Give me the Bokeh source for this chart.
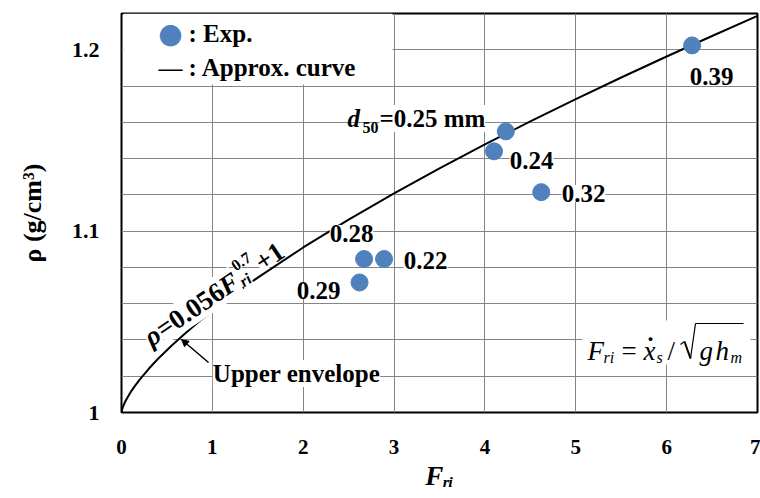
from bokeh.plotting import figure
from bokeh.models import (Label, BoxAnnotation, Arrow, NormalHead, FixedTicker,
                          NumeralTickFormatter, Range1d)
from bokeh.embed import file_html
from bokeh.resources import INLINE
import math

# ---------------- data ----------------
F_exp = [6.28, 4.23, 4.10, 4.62, 2.67, 2.89, 2.62]
rho_exp = [1.2024, 1.1550, 1.1440, 1.1215, 1.0846, 1.0846, 1.0717]
d50_mm = [0.39, 0.25, 0.24, 0.32, 0.28, 0.22, 0.29]

# approximation curve (upper envelope)
curve_F = [0, 0.005, 0.01, 0.02, 0.03, 0.05, 0.1, 0.15, 0.2, 0.3, 0.4, 0.55, 0.7,
           0.85, 1.0, 1.25, 1.5, 2.0, 2.5, 3.0, 3.5, 4.0, 4.5, 5.0, 5.5, 6.0, 6.5, 7.0]
curve_rho = [1.0, 1.0014, 1.0022, 1.0036, 1.0048, 1.0069, 1.0112, 1.0148, 1.0181,
             1.0241, 1.0295, 1.0368, 1.0436, 1.0500, 1.0560, 1.0655, 1.0744, 1.0910,
             1.1063, 1.1208, 1.1346, 1.1478, 1.1605, 1.1728, 1.1847, 1.1963, 1.2076, 1.2187]

x_ticks = [0, 1, 2, 3, 4, 5, 6, 7]
y_ticks = [1.0, 1.1, 1.2]
y_grid = [1.0, 1.02, 1.04, 1.06, 1.08, 1.1, 1.12, 1.14, 1.16, 1.18, 1.2, 1.22]
x_title = "Fᵣᵢ"
y_title = "ρ (g/cm³)"

# ---------------- layout ----------------
W, H = 760, 498
L, R, T, B = 121, 757, 13, 412
X0, X1, Y0, Y1 = 0, 7, 1.0, 1.22


def X(px):
    return X0 + (px - L) * (X1 - X0) / (R - L)


def Y(py):
    return Y0 + (B - py) * (Y1 - Y0) / (B - T)


FONT = "'Liberation Serif'"
BLUE = "#4F81BD"
TS = 25  # annotation text size

p = figure(width=W, height=H, x_range=Range1d(X0, X1), y_range=Range1d(Y0, Y1),
           output_backend="svg", toolbar_location=None,
           min_border_left=L, min_border_right=W - R, min_border_top=T,
           min_border_bottom=H - B)
p.background_fill_color = "white"
p.border_fill_color = "white"
p.outline_line_color = "black"
p.outline_line_width = 2

for ax in (p.xaxis[0], p.yaxis[0]):
    ax.axis_line_color = None
    ax.major_tick_line_color = None
    ax.minor_tick_line_color = None
    ax.major_tick_out = 0
    ax.major_tick_in = 0
    ax.minor_tick_out = 0
    ax.major_label_text_font = FONT
    ax.major_label_text_font_style = "bold"
    ax.major_label_text_font_size = "22px"
    ax.major_label_text_color = "black"
    ax.axis_label_text_font = FONT
    ax.axis_label_text_color = "black"

p.xaxis.ticker = FixedTicker(ticks=x_ticks)
p.xaxis.major_label_text_font_size = "21px"
p.xaxis.major_label_standoff = 27
p.xaxis.axis_label = x_title
p.xaxis.axis_label_text_font_size = "27px"
p.xaxis.axis_label_text_font_style = "bold italic"
p.xaxis.axis_label_standoff = 4

p.yaxis.ticker = FixedTicker(ticks=y_ticks)
p.yaxis.formatter = NumeralTickFormatter(format="0.[0]")
p.yaxis.major_label_standoff = 22
p.yaxis.axis_label = y_title
p.yaxis.axis_label_text_font_size = "26px"
p.yaxis.axis_label_text_font_style = "bold"
p.yaxis.axis_label_standoff = 22

p.xgrid.ticker = FixedTicker(ticks=x_ticks)
p.ygrid.ticker = FixedTicker(ticks=y_grid)
for g in (p.xgrid[0], p.ygrid[0]):
    g.grid_line_color = "#858585"
    g.grid_line_width = 1

# white area behind the legend and behind the formula
p.add_layout(BoxAnnotation(left=X(123), right=X(392), bottom=Y(84), top=Y1,
                           fill_color="white", fill_alpha=1, line_color=None))
p.add_layout(BoxAnnotation(left=X(582), right=X(750), bottom=Y(364), top=Y(320),
                           fill_color="white", fill_alpha=1, line_color=None))

# curve
p.line(curve_F, curve_rho, line_color="black", line_width=2)


def put(text, px, py, size=TS, style="bold", align="center", baseline="middle",
        angle=0, bg="white", color="black", font=FONT):
    lab = Label(x=X(px), y=Y(py), text=text, text_font=font,
                text_font_size=f"{size}px", text_font_style=style,
                text_align=align, text_baseline=baseline, angle=angle,
                angle_units="deg", text_color=color,
                background_fill_color=bg)
    p.add_layout(lab)
    return lab


def seg(x0, y0, x1, y1, w=1.3):
    p.add_layout(Arrow(end=None, x_start=X(x0), y_start=Y(y0), x_end=X(x1), y_end=Y(y1),
                       line_color="black", line_width=w))


# arrow to the curve
p.add_layout(Arrow(end=NormalHead(size=7, fill_color="black", line_color="black"),
                   x_start=X(208), y_start=Y(362), x_end=X(181), y_end=Y(339),
                   line_color="black", line_width=1.5))

# point labels
label_pos = {0.39: (711, 76), 0.24: (531, 160), 0.32: (583, 193),
             0.28: (351, 233), 0.22: (425, 260), 0.29: (318, 290)}
for v in d50_mm:
    if v in label_pos:
        px, py = label_pos[v]
        put(f"{v:.2f}", px, py)

# d50 = 0.25 mm label
put("d", 347, 118, style="bold italic", align="left", bg=None)
put("50", 362, 127, size=16, align="left", bg=None)
put(f"={d50_mm[1]:.2f} mm", 379, 118, align="left", bg="white")

put("Upper envelope", 296, 373)

# rotated curve equation
ang = 34.0
ux, uy = math.cos(math.radians(ang)), -math.sin(math.radians(ang))
nx, ny = -math.sin(math.radians(ang)), -math.cos(math.radians(ang))
P0 = (146, 339)


def along(s, dy):
    return P0[0] + s * ux + dy * nx, P0[1] + s * uy + dy * ny


for txt, s, dy, size, style in [("ρ", 0, 0, 27, "bold italic"),
                                ("=0.056", 14.5, 0, 27, "bold"),
                                ("F", 90.5, 0, 27, "bold italic"),
                                ("ri", 110, -6, 16, "bold italic"),
                                ("0.7", 112, 12, 16, "bold"),
                                ("+1", 134, 0, 27, "bold")]:
    px, py = along(s, dy)
    put(txt, px, py, size=size, style=style, align="left", baseline="alphabetic",
        angle=ang)

# legend (drawn as text)
put("●", 170, 33, size=28, color=BLUE, bg=None, font="'DejaVu Sans'")
put("—", 170, 67, size=24, bg=None)
put(": Exp.", 188, 33, align="left", bg=None)
put(": Approx. curve", 188, 67, align="left", bg=None)

# formula F_ri = x_s / sqrt(g h_m)
put("F", 587, 350, size=27, style="italic", align="left", baseline="alphabetic", bg=None)
put("ri", 603, 357, size=16, style="italic", align="left", baseline="alphabetic", bg=None)
put("=", 621, 350, size=27, style="normal", align="left", baseline="alphabetic", bg=None)
put("x", 643, 350, size=27, style="italic", align="left", baseline="alphabetic", bg=None)
put(".", 650, 333, size=24, style="bold", align="center", baseline="alphabetic", bg=None)
put("s", 656, 357, size=16, style="italic", align="left", baseline="alphabetic", bg=None)
put("/", 667, 350, size=27, style="normal", align="left", baseline="alphabetic", bg=None)
seg(680, 344, 684, 341, 1.2)
seg(684, 341, 690, 358, 2.0)
seg(690, 358, 695, 323, 1.2)
seg(695, 323, 743, 323, 1.2)
put("g", 699, 350, size=27, style="italic", align="left", baseline="alphabetic", bg=None)
put("h", 715, 350, size=27, style="italic", align="left", baseline="alphabetic", bg=None)
put("m", 730, 357, size=16, style="italic", align="left", baseline="alphabetic", bg=None)

# points on top
p.scatter(F_exp, rho_exp, size=17, fill_color=BLUE, line_color=BLUE, marker="circle")

open("out.html", "w").write(file_html(p, INLINE))
